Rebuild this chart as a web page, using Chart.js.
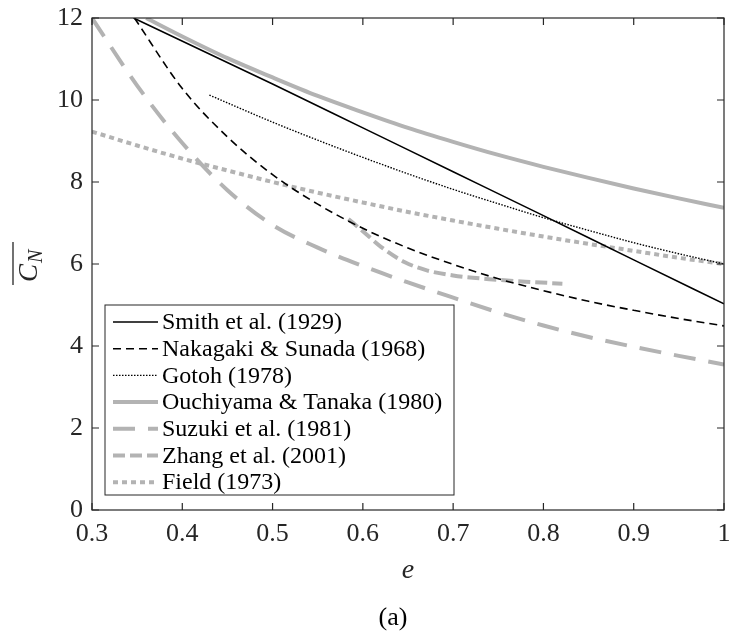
<!DOCTYPE html>
<html>
<head>
<meta charset="utf-8">
<title>Coordination number vs void ratio</title>
<script src="https://cdn.jsdelivr.net/npm/chart.js@4.4.1/dist/chart.umd.min.js"></script>
<style>
  html, body { margin: 0; padding: 0; background: #fff; }
</style>
</head>
<body>
<canvas id="cn-chart" width="729" height="632"></canvas>
<script>
// void ratio e -> mean coordination number for each model
const smithE = [0.346, 0.5, 0.6, 0.7, 0.8, 0.9, 1.0];
const smithCN = [12.0, 10.39, 9.32, 8.25, 7.18, 6.10, 5.03];

const nakagakiE = [0.347, 0.4, 0.45, 0.5, 0.55, 0.6, 0.65, 0.7, 0.75, 0.8, 0.85, 0.9, 0.95, 1.0];
const nakagakiCN = [12.0, 10.28, 9.10, 8.18, 7.46, 6.87, 6.39, 5.99, 5.64, 5.35, 5.09, 4.87, 4.67, 4.49];

const gotohE = [0.43, 0.45, 0.5, 0.55, 0.6, 0.65, 0.7, 0.75, 0.8, 0.85, 0.9, 0.95, 1.0];
const gotohCN = [10.12, 9.93, 9.46, 9.02, 8.60, 8.20, 7.82, 7.47, 7.13, 6.82, 6.52, 6.25, 6.0];

const ouchiyamaE = [0.36, 0.4, 0.45, 0.5, 0.55, 0.6, 0.65, 0.7, 0.75, 0.8, 0.85, 0.9, 0.95, 1.0];
const ouchiyamaCN = [12.0, 11.55, 11.02, 10.55, 10.1, 9.7, 9.32, 8.98, 8.66, 8.37, 8.1, 7.84, 7.6, 7.37];

const suzukiE = [0.3, 0.35, 0.4, 0.45, 0.5, 0.55, 0.6, 0.65, 0.7, 0.75, 0.8, 0.85, 0.9, 0.95, 1.0];
const suzukiCN = [12.0, 10.35, 8.95, 7.8, 6.95, 6.4, 5.95, 5.55, 5.18, 4.82, 4.5, 4.22, 3.98, 3.76, 3.55];

const zhangE = [0.584, 0.6, 0.62, 0.646, 0.67, 0.7, 0.74, 0.78, 0.821];
const zhangCN = [7.1, 6.8, 6.42, 6.05, 5.85, 5.72, 5.63, 5.57, 5.52];

const fieldE = [0.3, 0.35, 0.4, 0.45, 0.5, 0.55, 0.6, 0.65, 0.7, 0.75, 0.8, 0.85, 0.9, 0.95, 1.0];
const fieldCN = [9.23, 8.89, 8.57, 8.28, 8.0, 7.74, 7.5, 7.27, 7.06, 6.86, 6.67, 6.49, 6.32, 6.15, 6.0];

const labels = [
    'Smith et al. (1929)',
    'Nakagaki & Sunada (1968)',
    'Gotoh (1978)',
    'Ouchiyama & Tanaka (1980)',
    'Suzuki et al. (1981)',
    'Zhang et al. (2001)',
    'Field (1973)'
];

const serif = "'Liberation Serif', 'Times New Roman', serif";
const axisColor = '#262626';
const gray = 'rgb(179,179,179)';

function pts(xs, ys) {
    return xs.map((x, i) => ({ x: x, y: ys[i] }));
}

const datasets = [
    { label: labels[0], data: pts(smithE, smithCN), borderColor: '#000', borderWidth: 1.6, borderDash: [], tension: 0 },
    { label: labels[1], data: pts(nakagakiE, nakagakiCN), borderColor: '#000', borderWidth: 1.6, borderDash: [8, 5] },
    { label: labels[2], data: pts(gotohE, gotohCN), borderColor: '#000', borderWidth: 1.4, borderDash: [1.5, 1.5] },
    { label: labels[3], data: pts(ouchiyamaE, ouchiyamaCN), borderColor: gray, borderWidth: 4, borderDash: [] },
    { label: labels[4], data: pts(suzukiE, suzukiCN), borderColor: gray, borderWidth: 4, borderDash: [22, 13] },
    { label: labels[5], data: pts(zhangE, zhangCN), borderColor: gray, borderWidth: 4, borderDash: [12, 5] },
    { label: labels[6], data: pts(fieldE, fieldCN), borderColor: gray, borderWidth: 4, borderDash: [5, 4] }
].map(d => Object.assign({
    pointRadius: 0,
    fill: false,
    cubicInterpolationMode: 'monotone',
    borderCapStyle: 'butt'
}, d));

// axes box with inward ticks, legend box, y label and panel tag
const figureDecor = {
    id: 'figureDecor',
    afterDatasetsDraw(chart) {
        const { ctx, chartArea: a, scales: { x, y } } = chart;
        const tickLen = 7;
        ctx.save();

        // box + ticks
        ctx.strokeStyle = axisColor;
        ctx.lineWidth = 1.2;
        ctx.strokeRect(a.left, a.top, a.right - a.left, a.bottom - a.top);
        ctx.beginPath();
        x.ticks.forEach(t => {
            const px = x.getPixelForValue(t.value);
            ctx.moveTo(px, a.bottom); ctx.lineTo(px, a.bottom - tickLen);
            ctx.moveTo(px, a.top); ctx.lineTo(px, a.top + tickLen);
        });
        y.ticks.forEach(t => {
            const py = y.getPixelForValue(t.value);
            ctx.moveTo(a.left, py); ctx.lineTo(a.left + tickLen, py);
            ctx.moveTo(a.right, py); ctx.lineTo(a.right - tickLen, py);
        });
        ctx.stroke();

        // legend
        const rowH = 26.7;
        const boxL = a.left + 13, boxR = boxL + 349;
        const boxB = a.bottom - 15, boxT = boxB - 190;
        ctx.fillStyle = '#fff';
        ctx.fillRect(boxL, boxT, boxR - boxL, boxB - boxT);
        ctx.strokeStyle = axisColor;
        ctx.lineWidth = 1;
        ctx.strokeRect(boxL, boxT, boxR - boxL, boxB - boxT);
        ctx.font = '24px ' + serif;
        ctx.textAlign = 'left';
        ctx.textBaseline = 'middle';
        chart.data.datasets.forEach((ds, i) => {
            const ry = boxT + 17 + i * rowH;
            ctx.save();
            ctx.strokeStyle = ds.borderColor;
            ctx.lineWidth = ds.borderWidth;
            ctx.setLineDash(ds.borderDash || []);
            ctx.beginPath();
            ctx.moveTo(boxL + 8, ry);
            ctx.lineTo(boxL + 53, ry);
            ctx.stroke();
            ctx.restore();
            ctx.fillStyle = '#000';
            ctx.fillText(ds.label, boxL + 57, ry + 1);
        });

        // y label: C_N with overline
        const midY = (a.top + a.bottom) / 2;
        ctx.save();
        ctx.translate(0, midY);
        ctx.rotate(-Math.PI / 2);
        ctx.fillStyle = axisColor;
        ctx.textAlign = 'left';
        ctx.textBaseline = 'alphabetic';
        ctx.font = 'italic 27px ' + serif;
        ctx.fillText('C', -18, 37);
        ctx.font = 'italic 20px ' + serif;
        ctx.fillText('N', 1, 42);
        ctx.strokeStyle = axisColor;
        ctx.lineWidth = 1.3;
        ctx.beginPath();
        ctx.moveTo(-21, 13);
        ctx.lineTo(22, 13);
        ctx.stroke();
        ctx.restore();

        // panel tag
        ctx.fillStyle = '#000';
        ctx.font = '26px ' + serif;
        ctx.textAlign = 'center';
        ctx.textBaseline = 'middle';
        ctx.fillText('(a)', 393, 618);

        ctx.restore();
    }
};

new Chart(document.getElementById('cn-chart'), {
    type: 'line',
    data: { datasets: datasets },
    options: {
        responsive: false,
        animation: false,
        devicePixelRatio: 1,
        layout: { padding: { top: 18, right: 5, bottom: 0, left: 0 } },
        plugins: {
            legend: { display: false },
            tooltip: { enabled: false }
        },
        scales: {
            x: {
                type: 'linear',
                min: 0.3,
                max: 1,
                grid: { display: false, drawTicks: false },
                border: { display: false },
                ticks: {
                    stepSize: 0.1,
                    padding: 9,
                    color: axisColor,
                    font: { family: serif, size: 26 },
                    maxRotation: 0,
                    callback: v => String(+v.toFixed(1))
                },
                title: {
                    display: true,
                    text: 'e',
                    color: axisColor,
                    font: { family: serif, size: 28, style: 'italic' },
                    padding: { top: 0, bottom: 45 }
                },
                afterFit(scale) {
                    scale.height = 122;
                    scale.paddingLeft = 0;
                    scale.paddingRight = 0;
                }
            },
            y: {
                min: 0,
                max: 12,
                grid: { display: false, drawTicks: false },
                border: { display: false },
                ticks: {
                    stepSize: 2,
                    padding: 9,
                    color: axisColor,
                    font: { family: serif, size: 26 }
                },
                afterFit(scale) {
                    scale.width = 92;
                    scale.paddingTop = 0;
                    scale.paddingBottom = 0;
                }
            }
        }
    },
    plugins: [figureDecor]
});
</script>
</body>
</html>
